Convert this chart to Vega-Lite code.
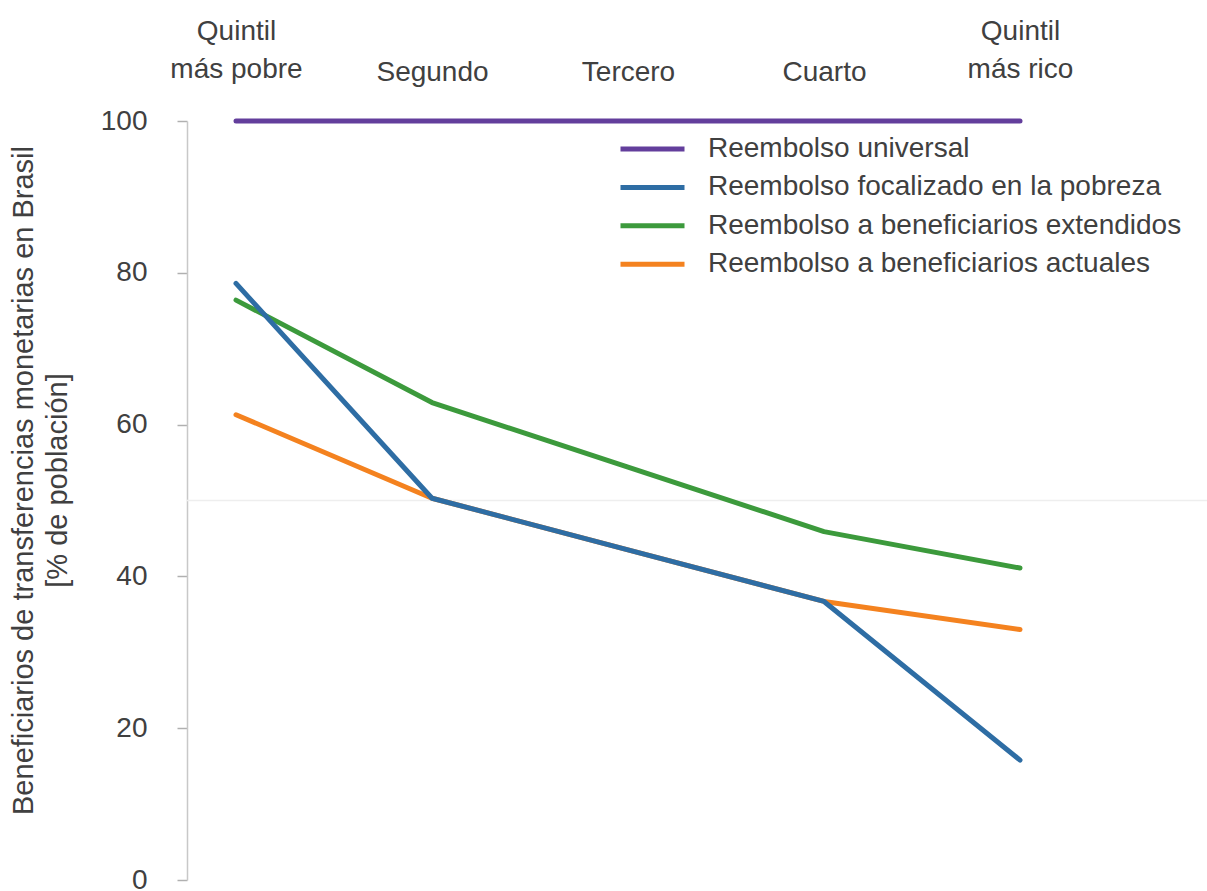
{
  "$schema": "https://vega.github.io/schema/vega-lite/v6.json",
  "width": 1020,
  "height": 759,
  "autosize": {"type": "none"},
  "padding": {"left": 187, "top": 121, "right": 0, "bottom": 11},
  "background": "white",
  "config": {
    "view": {"stroke": null},
    "font": "Liberation Sans",
    "axis": {"labelFont": "Liberation Sans", "titleFont": "Liberation Sans"},
    "legend": {"labelFont": "Liberation Sans"}
  },
  "data": {
    "values": [
      {"quintil": "Quintil más pobre", "serie": "Reembolso a beneficiarios actuales", "valor": 61.3},
      {"quintil": "Segundo", "serie": "Reembolso a beneficiarios actuales", "valor": 50.3},
      {"quintil": "Tercero", "serie": "Reembolso a beneficiarios actuales", "valor": 43.5},
      {"quintil": "Cuarto", "serie": "Reembolso a beneficiarios actuales", "valor": 36.7},
      {"quintil": "Quintil más rico", "serie": "Reembolso a beneficiarios actuales", "valor": 33.0},
      {"quintil": "Quintil más pobre", "serie": "Reembolso a beneficiarios extendidos", "valor": 76.4},
      {"quintil": "Segundo", "serie": "Reembolso a beneficiarios extendidos", "valor": 62.9},
      {"quintil": "Tercero", "serie": "Reembolso a beneficiarios extendidos", "valor": 54.4},
      {"quintil": "Cuarto", "serie": "Reembolso a beneficiarios extendidos", "valor": 45.9},
      {"quintil": "Quintil más rico", "serie": "Reembolso a beneficiarios extendidos", "valor": 41.1},
      {"quintil": "Quintil más pobre", "serie": "Reembolso universal", "valor": 100},
      {"quintil": "Segundo", "serie": "Reembolso universal", "valor": 100},
      {"quintil": "Tercero", "serie": "Reembolso universal", "valor": 100},
      {"quintil": "Cuarto", "serie": "Reembolso universal", "valor": 100},
      {"quintil": "Quintil más rico", "serie": "Reembolso universal", "valor": 100},
      {"quintil": "Quintil más pobre", "serie": "Reembolso focalizado en la pobreza", "valor": 78.6},
      {"quintil": "Segundo", "serie": "Reembolso focalizado en la pobreza", "valor": 50.3},
      {"quintil": "Tercero", "serie": "Reembolso focalizado en la pobreza", "valor": 43.5},
      {"quintil": "Cuarto", "serie": "Reembolso focalizado en la pobreza", "valor": 36.7},
      {"quintil": "Quintil más rico", "serie": "Reembolso focalizado en la pobreza", "valor": 15.8}
    ]
  },
  "layer": [
    {
      "data": {"values": [{"referencia": 50}]},
      "mark": {"type": "rule", "color": "#eeeeee", "strokeWidth": 1.5},
      "encoding": {
        "y": {"field": "referencia", "type": "quantitative"}
      }
    },
    {
      "mark": {"type": "line", "strokeWidth": 5, "strokeCap": "round", "strokeJoin": "round"},
      "encoding": {
        "x": {
          "field": "quintil",
          "type": "ordinal",
          "sort": ["Quintil más pobre", "Segundo", "Tercero", "Cuarto", "Quintil más rico"],
          "scale": {"type": "point", "domain": ["Quintil más pobre", "Segundo", "Tercero", "Cuarto", "Quintil más rico"], "range": [49, 833], "padding": 0},
          "axis": {
            "orient": "top",
            "title": null,
            "domain": false,
            "ticks": false,
            "grid": false,
            "labelAngle": 0,
            "labelFontSize": 28,
            "labelColor": "#404040",
            "labelBaseline": "bottom",
            "labelPadding": {"condition": {"test": "indexof(['Quintil más pobre', 'Quintil más rico'], datum.value) >= 0", "value": 76}, "value": 35},
            "labelLineHeight": 38,
            "labelOverlap": false,
            "labelFlush": false,
            "labelExpr": "datum.label == 'Quintil más pobre' ? ['Quintil', 'más pobre'] : datum.label == 'Quintil más rico' ? ['Quintil', 'más rico'] : datum.label"
          }
        },
        "y": {
          "field": "valor",
          "type": "quantitative",
          "scale": {"domain": [0, 100], "nice": false},
          "axis": {
            "values": [0, 20, 40, 60, 80, 100],
            "grid": false,
            "domainColor": "#c8c8c8",
            "domainWidth": 1.5,
            "tickColor": "#b0b0b0",
            "tickSize": 10,
            "tickWidth": 1.5,
            "labelFontSize": 28,
            "labelPadding": 30,
            "labelColor": "#404040",
            "title": ["Beneficiarios de transferencias monetarias en Brasil", "[% de población]"],
            "titleFontSize": 29,
            "titleFontWeight": "normal",
            "titleColor": "#404040",
            "titleAngle": -90,
            "titleAlign": "center",
            "titleBaseline": "alphabetic",
            "titleLineHeight": 34,
            "titleX": -155,
            "titleY": 359
          }
        },
        "color": {
          "field": "serie",
          "type": "nominal",
          "scale": {
            "domain": ["Reembolso universal", "Reembolso focalizado en la pobreza", "Reembolso a beneficiarios extendidos", "Reembolso a beneficiarios actuales"],
            "range": ["#633e9c", "#2e6da4", "#3c9a3c", "#f4821f"]
          },
          "legend": {
            "orient": "none",
            "legendX": 431,
            "legendY": 9,
            "title": null,
            "padding": 0,
            "symbolType": "stroke",
            "symbolSize": 4096,
            "symbolStrokeWidth": 5,
            "labelFontSize": 28,
            "labelColor": "#404040",
            "labelOffset": 21,
            "labelLimit": 0,
            "clipHeight": 38,
            "rowPadding": 0.4
          }
        }
      }
    }
  ]
}
